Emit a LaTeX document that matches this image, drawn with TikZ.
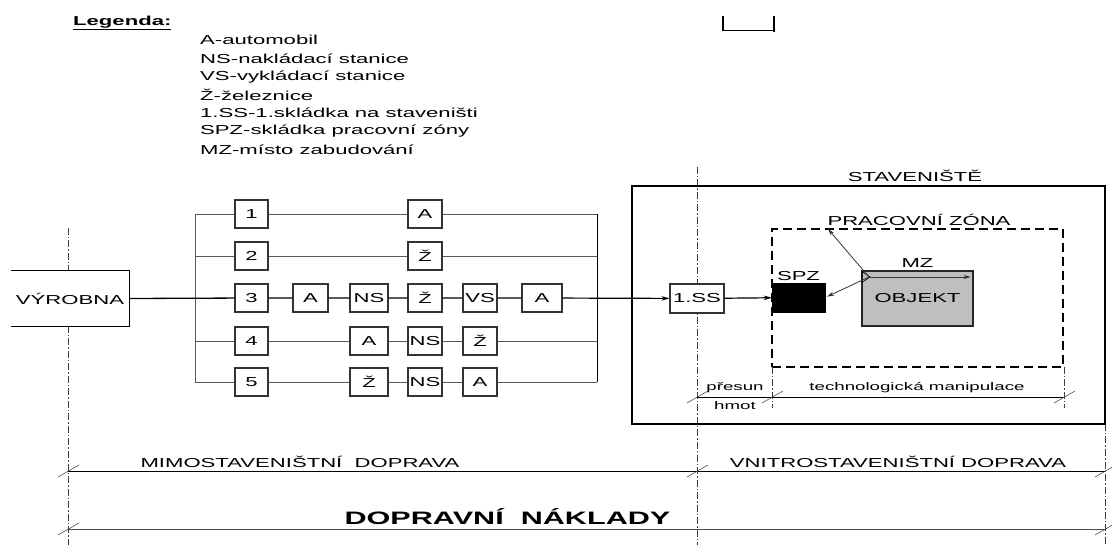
\documentclass[tikz,border=0pt]{standalone}
\usepackage{fontspec}
\setmainfont{Liberation Sans}[FakeStretch=1.7]
\usetikzlibrary{arrows.meta,positioning}

\newcommand{\dimtick}[1]{\draw[tickline] #1 ++(-10,6) -- ++(21,-12);}

\begin{document}
\begin{tikzpicture}[x=1pt, y=-1pt,
	every node/.style={inner sep=0pt, font=\fontsize{13}{15}\selectfont},
	box/.style={draw=black!80, line width=1.1pt, fill=white, minimum height=28pt, minimum width=34pt},
	numbox/.style={box, minimum width=33pt},
	small/.style={font=\fontsize{11}{13}\selectfont},
	mainline/.style={line width=1.3pt, color=black},
	sideline/.style={line width=0.8pt, color=black!65},
	axisline/.style={line width=0.8pt, color=black!75, dash pattern=on 7pt off 2pt on 1.5pt off 2pt},
	dimline/.style={line width=1pt, color=black},
	tickline/.style={line width=0.6pt, color=black!70},
	ray/.style={line width=0.8pt, color=black!80, -{Stealth[length=7pt, width=4pt]}},
	flow/.style={line width=1.2pt, -{Stealth[length=8pt, width=4.5pt]}}
	]
	\useasboundingbox (0,0) rectangle (1112,545);

	% Legend
	\node[anchor=west, font=\bfseries\fontsize{13}{15}\selectfont] (leg) at (73,23) {\underline{Legenda:}};
	\foreach \t [count=\i from 0] in {A-automobil, NS-nakládací stanice, VS-vykládací stanice, Ž-železnice, 1.SS-1.skládka na staveništi, SPZ-skládka pracovní zóny, MZ-místo zabudování}
		\node[anchor=west] (leg\i) at (200,40+18.3*\i) {\t};

	% scale mark
	\draw[line width=2.5pt] (723,16) -- (723,31);
	\draw[line width=1.5pt] (723,30.5) -- (774,30.5);
	\draw[line width=2.5pt] (774,16) -- (774,32);

	% Axis lines
	\draw[axisline] (68,228) -- (68,271);
	\draw[axisline] (68,326) -- (68,545);
	\draw[axisline] (697,167) -- (697,545);
	\draw[axisline] (1105,424) -- (1105,545);
	\draw[axisline] (772,367) -- (772,408);
	\draw[axisline] (1064,367) -- (1064,408);

	% Production
	\node[minimum width=118, minimum height=55] (vyr) at (70,298.5) {VÝROBNA};
	\draw[line width=1.1pt] (vyr.north west) -- (vyr.north east) -- (vyr.south east) -- (vyr.south west);

	% Transport variants
	\node[numbox] (n1) at (251.5,214) {1};
	\node[numbox] (n2) at (251.5,256) {2};
	\node[numbox] (n3) at (251.5,298) {3};
	\node[numbox] (n4) at (251.5,341) {4};
	\node[numbox] (n5) at (251.5,382) {5};

	\node[box] (a1) at (425,214) {A};
	\node[box] (z2) at (425,256) {Ž};

	\node[box, minimum width=35] (a3a) at (310.5,298) {A};
	\node[box, minimum width=38] (ns3) at (369,298) {NS};
	\node[box] (z3) at (425,298) {Ž};
	\node[box] (vs3) at (480,298) {VS};
	\node[box, minimum width=40] (a3b) at (542,298) {A};

	\node[box, minimum width=38] (a4) at (369,341) {A};
	\node[box] (ns4) at (425,341) {NS};
	\node[box] (z4) at (480,341) {Ž};

	\node[box, minimum width=38] (z5) at (369,382) {Ž};
	\node[box] (ns5) at (425,382) {NS};
	\node[box] (a5) at (480,382) {A};

	\coordinate (bl1) at (195,214);
	\coordinate (bl5) at (195,382);
	\coordinate (br1) at (597,214);
	\coordinate (br5) at (597,382);

	\draw[sideline] (bl1) -- (bl5);
	\draw[line width=0.9pt] (br1) -- (br5);
	\draw[sideline] (bl1) -- (n1) -- (a1) -- (br1);
	\draw[sideline] (195,256) -- (n2) -- (z2) -- (597,256);
	\draw[sideline] (195,341) -- (n4) -- (a4) -- (ns4) -- (z4) -- (597,341);
	\draw[sideline] (bl5) -- (n5) -- (z5) -- (ns5) -- (a5) -- (br5);
	\draw[mainline] (vyr.east) -- (n3) -- (a3a) -- (ns3) -- (z3) -- (vs3) -- (a3b);

	% Building site
	\node[draw, line width=2.5pt, minimum width=473, minimum height=238] (stav) at (868.5,305) {};
	\node (stavlbl) at (915,176) {STAVENIŠTĚ};
	\node[box, minimum width=54, minimum height=29] (ss) at (697,298.5) {1.SS};
	\draw[mainline, flow] (a3b) -- (ss);

	\node[draw, line width=1.8pt, dash pattern=on 9pt off 5pt, minimum width=291, minimum height=138] (pz) at (917.5,298) {};
	\node (pzlbl) at (919,220) {PRACOVNÍ ZÓNA};

	\node[draw, fill=black, minimum width=53, minimum height=29] (spz) at (798.5,297.5) {};
	\node[above=1.5pt of spz] (spzlbl) {SPZ};
	\draw[flow] (ss) -- (spz);

	\node[draw=black!85, line width=1.2pt, fill=black!25, minimum width=111, minimum height=55] (obj) at (917.5,298.5) {OBJEKT};
	\node[above=3pt of obj] (mz) {MZ};

	\coordinate (org) at (869,277);
	\coordinate (pzmark) at (828,229);
	\draw[line width=0.6pt] (862,271.5) -- (870,277) -- (862,282.5) -- cycle;
	\draw[ray] (org) -- (pzmark);
	\draw[ray, shorten >=2pt] (org) -- (spz.east);
	\draw[ray, shorten >=3pt] (org) -- (org -| obj.east);

	% Dimensions inside site
	\draw[line width=0.8pt] (697,397) -- (1064,397);
	\dimtick{(697,397)}
	\dimtick{(772,397)}
	\dimtick{(1064,397)}
	\node[small] (pres) at (735,388) {přesun};
	\node[small] (hmot) at (735,406) {hmot};
	\node[small] (tech) at (917,388) {technologická manipulace};

	% Dimensions at the bottom
	\draw[dimline] (68,471) -- (1105,471);
	\dimtick{(68,471)}
	\dimtick{(697,471)}
	\dimtick{(1105,471)}
	\node (mimo) at (300,462) {MIMOSTAVENIŠTNÍ\ \ DOPRAVA};
	\node (vnitro) at (898,462) {VNITROSTAVENIŠTNÍ DOPRAVA};

	\draw[line width=0.8pt, color=black!70] (68,529) -- (1105,529);
	\dimtick{(68,529)}
	\dimtick{(1105,529)}
	\node[font=\bfseries\fontsize{18}{20}\selectfont] (naklady) at (507.5,517) {DOPRAVNÍ\ \ NÁKLADY};

\end{tikzpicture}
\end{document}
